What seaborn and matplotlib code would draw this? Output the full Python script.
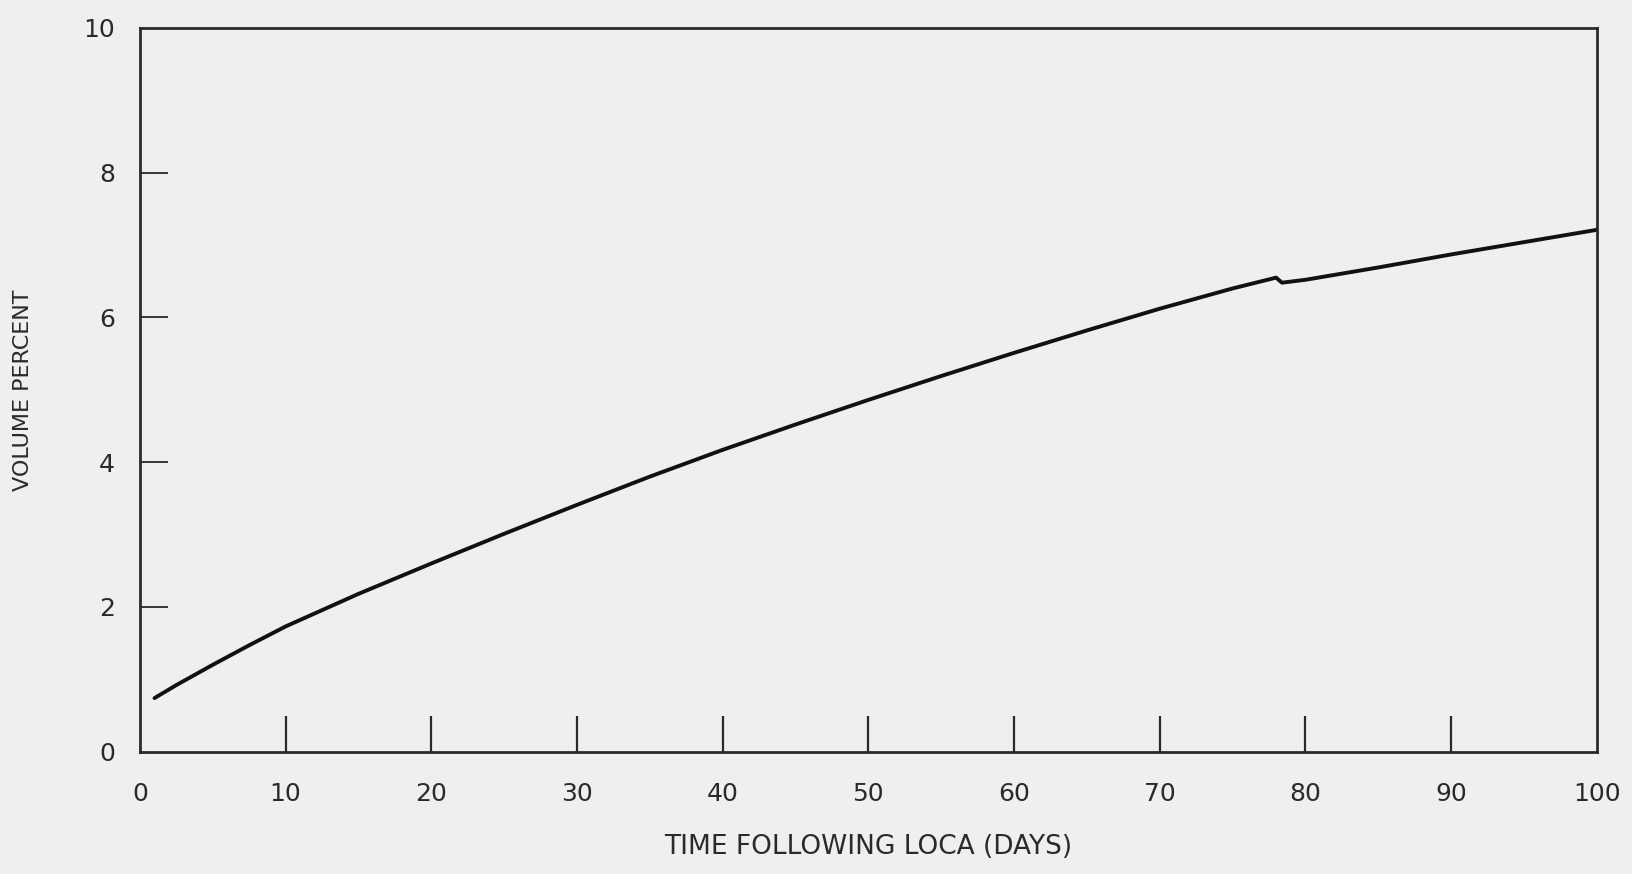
import matplotlib
matplotlib.use('Agg')
import matplotlib.pyplot as plt
import pandas as pd
import seaborn as sns

# values
days = [1, 2.5, 5, 7.5, 10, 15, 20, 25, 30, 35, 40, 45, 50, 55, 60, 65, 70, 75,
        78, 78.4, 80, 85, 90, 95, 100]
volume_pct = [0.74, 0.92, 1.20, 1.47, 1.73, 2.18, 2.60, 3.01, 3.41, 3.80, 4.17,
              4.52, 4.86, 5.19, 5.51, 5.82, 6.12, 6.40, 6.55, 6.48, 6.52, 6.69,
              6.87, 7.04, 7.21]
x_ticks = [0, 10, 20, 30, 40, 50, 60, 70, 80, 90, 100]
y_ticks = [0, 2, 4, 6, 8, 10]

df = pd.DataFrame({'days': days, 'volume': volume_pct})

sns.set_style('white')
plt.rcParams['font.family'] = ['DejaVu Sans']
paper = '#efefed'
ink = '#2a2a2a'

fig = plt.figure(figsize=(16.33, 8.74), dpi=100, facecolor=paper)
ax = fig.add_axes([0.0857, 0.14, 0.892, 0.828], facecolor=paper)

sns.lineplot(data=df, x='days', y='volume', ax=ax, color='#111111',
             linewidth=2.8, sort=False)

ax.set_xlim(0, 100)
ax.set_ylim(0, 10)

# labels at every major position, tick marks only at the inner ones (drawn inward)
ax.set_xticks(x_ticks)
ax.set_yticks(y_ticks)
ax.set_xticks(x_ticks[1:-1], minor=True)
ax.set_yticks(y_ticks[1:-1], minor=True)
ax.xaxis.remove_overlapping_locs = False
ax.yaxis.remove_overlapping_locs = False
ax.tick_params(bottom=True, left=True, which='both')
ax.tick_params(axis='both', which='major', length=0, labelsize=18, labelcolor=ink)
ax.tick_params(axis='x', which='major', pad=22)
ax.tick_params(axis='y', which='major', pad=18)
ax.tick_params(axis='x', which='minor', direction='in', length=26, width=1.6, color=ink)
ax.tick_params(axis='y', which='minor', direction='in', length=20, width=1.3, color=ink)

for side in ax.spines.values():
    side.set_visible(True)
    side.set_color(ink)
    side.set_linewidth(2)

ax.set_xlabel('TIME FOLLOWING LOCA (DAYS)', fontsize=19, color=ink, labelpad=20)
ax.set_ylabel('VOLUME PERCENT', fontsize=16, color=ink, labelpad=36)

fig.savefig('out.png', dpi=100, facecolor=paper)
